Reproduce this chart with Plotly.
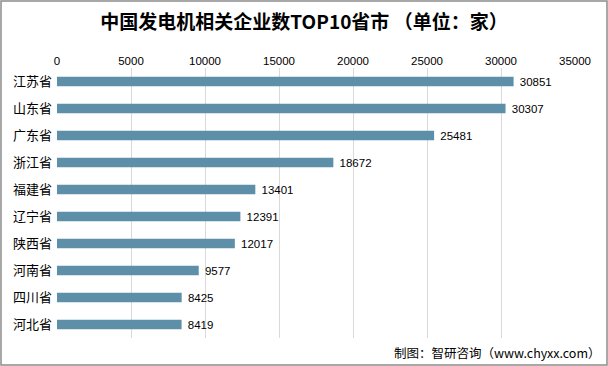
import plotly.graph_objects as go

provinces = ["江苏省", "山东省", "广东省", "浙江省", "福建省", "辽宁省", "陕西省", "河南省", "四川省", "河北省"]
counts = [30851, 30307, 25481, 18672, 13401, 12391, 12017, 9577, 8425, 8419]
tick_vals = [0, 5000, 10000, 15000, 20000, 25000, 30000, 35000]

W, H = 608, 366
L, R, T, B = 57, 33, 68, 28

fig = go.Figure(go.Bar(
    x=counts, y=provinces, orientation="h",
    marker=dict(color="#5E8FA8", line=dict(width=0)),
    width=0.36,
    text=["\u00a0" + str(v) for v in counts], textposition="outside",
    constraintext="none",
    textfont=dict(size=11.5, color="#000000", family="Liberation Sans, Arial"),
    cliponaxis=False,
))

pw = W - L - R
ph = H - T - B
fig.update_layout(
    width=W, height=H,
    margin=dict(l=L, r=R, t=T, b=B, autoexpand=False),
    paper_bgcolor="white", plot_bgcolor="white",
    showlegend=False,
    title=dict(text="<b>中国发电机相关企业数TOP10省市 （单位：家）</b>", x=0.5, xanchor="center",
               y=1 - 22 / H, yanchor="middle",
               font=dict(size=19, color="#000000", family="Noto Sans CJK SC")),
    xaxis=dict(side="top", range=[0, 35000], tickvals=tick_vals, automargin=False,
               ticktext=[str(v) for v in tick_vals],
               showgrid=True, gridcolor="#D9D9D9", gridwidth=1,
               zeroline=False, showline=False, ticks="",
               tickfont=dict(size=11.5, color="#000000", family="Liberation Sans, Arial")),
    yaxis=dict(autorange="reversed", showgrid=False, showline=False, ticks="",
               automargin=False, ticklabelstandoff=4,
               tickfont=dict(size=13, color="#000000", family="Noto Sans CJK SC")),
    shapes=[dict(type="rect", xref="paper", yref="paper",
                 x0=-(L - 1) / pw, x1=1 + (R - 1) / pw,
                 y0=-(B - 1) / ph, y1=1 + (T - 1) / ph,
                 line=dict(color="#8C8C8C", width=1.5))],
    annotations=[dict(text="制图：智研咨询（www.chyxx.com）", xref="paper", yref="paper",
                      x=1 + (R - 5) / pw, y=-14 / ph, xanchor="right", yanchor="middle",
                      showarrow=False,
                      font=dict(size=12.5, color="#000000", family="Noto Sans CJK SC"))],
)
fig.update_layout(bargap=0.6)
fig.write_html("out.html", config={"displayModeBar": False},
               post_script="document.body.style.margin='0';document.body.style.overflow='hidden';")
